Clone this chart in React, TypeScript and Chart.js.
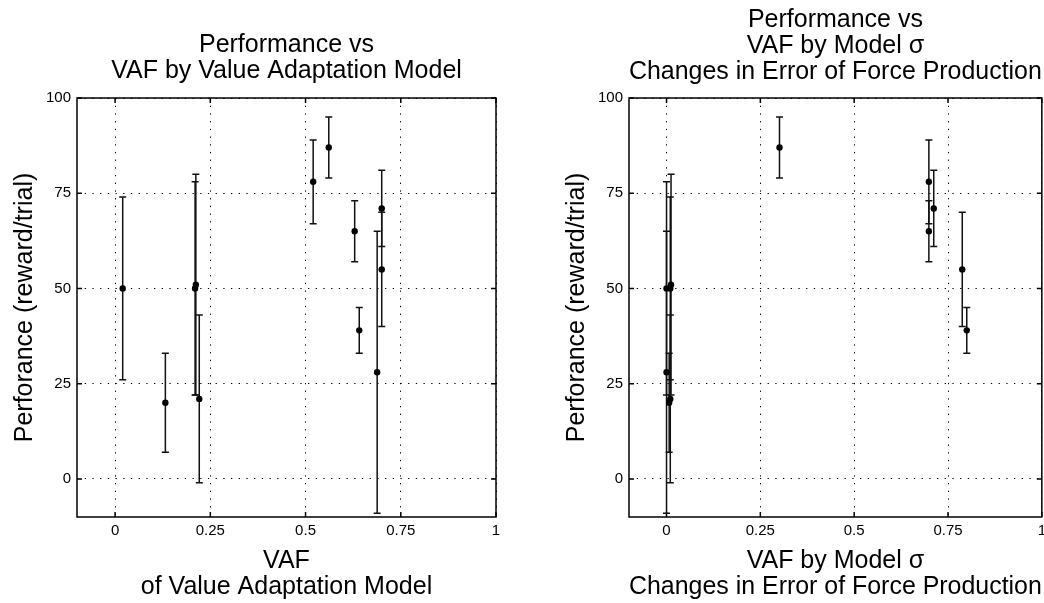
import React, { useEffect, useRef } from 'react';
import { Chart, registerables } from 'chart.js';

Chart.register(...registerables);

// ---- data ----
const performance = [50, 20, 51, 50, 21, 78, 87, 65, 39, 28, 71, 55];
const performanceError = [24, 13, 29, 28, 22, 11, 8, 8, 6, 37, 10, 15];
const vafValueAdaptation = [0.02, 0.132, 0.212, 0.21, 0.221, 0.52, 0.561, 0.629, 0.641, 0.688, 0.7, 0.7];
const vafForceError = [0.01, 0.007, 0.012, 0.0, 0.01, 0.699, 0.301, 0.699, 0.8, 0.0, 0.712, 0.788];

const xTicks = [0, 0.25, 0.5, 0.75, 1];
const xTickLabels = ['0', '0.25', '0.5', '0.75', '1'];
const yTicks = [0, 25, 50, 75, 100];
const yTickLabels = ['0', '25', '50', '75', '100'];

const leftTitle = ['Performance vs', 'VAF by Value Adaptation Model'];
const leftXLabel = ['VAF', 'of Value Adaptation Model'];
const rightTitle = ['Performance vs', 'VAF by Model σ', 'Changes in Error of Force Production'];
const rightXLabel = ['VAF by Model σ', 'Changes in Error of Force Production'];
const yLabel = 'Perforance (reward/trial)';

const FONT = "'Liberation Sans', Arial, Helvetica, sans-serif";

const errorBarPlugin = {
  id: 'errorBars',
  beforeDatasetsDraw(chart: any, _args: any, opts: any) {
    const { ctx } = chart;
    const xs = chart.scales.x;
    const ys = chart.scales.y;
    const errs: number[] = opts.errors || [];
    const pts = chart.data.datasets[0].data as { x: number; y: number }[];
    ctx.save();
    ctx.strokeStyle = '#111';
    ctx.lineWidth = 1.5;
    pts.forEach((p, i) => {
      const px = xs.getPixelForValue(p.x);
      const top = ys.getPixelForValue(p.y + errs[i]);
      const bot = ys.getPixelForValue(p.y - errs[i]);
      ctx.beginPath();
      ctx.moveTo(px, top);
      ctx.lineTo(px, bot);
      ctx.moveTo(px - 3.5, top);
      ctx.lineTo(px + 3.5, top);
      ctx.moveTo(px - 3.5, bot);
      ctx.lineTo(px + 3.5, bot);
      ctx.stroke();
    });
    ctx.restore();
  },
};

const boxPlugin = {
  id: 'matlabBox',
  beforeDatasetsDraw(chart: any) {
    const { ctx, chartArea } = chart;
    const { left, right, top, bottom } = chartArea;
    const xs = chart.scales.x;
    const ys = chart.scales.y;
    ctx.save();
    ctx.strokeStyle = '#000';
    ctx.lineWidth = 1.5;
    ctx.setLineDash([]);
    ctx.strokeRect(left, top, right - left, bottom - top);
    ctx.beginPath();
    xTicks.forEach((v) => {
      const px = xs.getPixelForValue(v);
      ctx.moveTo(px, bottom);
      ctx.lineTo(px, bottom - 5);
      ctx.moveTo(px, top);
      ctx.lineTo(px, top + 5);
    });
    yTicks.forEach((v) => {
      const py = ys.getPixelForValue(v);
      ctx.moveTo(left, py);
      ctx.lineTo(left + 5, py);
      ctx.moveTo(right, py);
      ctx.lineTo(right - 5, py);
    });
    ctx.stroke();
    ctx.restore();
  },
};

function makeConfig(
  xs: number[],
  title: string[],
  xLabel: string[],
  o: { yWidth: number; padRight: number; titleTop: number; titleBottom: number; yTitlePad: number }
): any {
  return {
    type: 'scatter',
    data: {
      datasets: [
        {
          data: xs.map((x, i) => ({ x, y: performance[i] })),
          pointRadius: 3.2,
          pointStyle: 'circle',
          pointBackgroundColor: '#000',
          pointBorderColor: '#000',
          pointBorderWidth: 0,
          showLine: false,
        },
      ],
    },
    options: {
      animation: false,
      responsive: false,
      events: [],
      layout: { padding: { left: 0, right: o.padRight, top: 0, bottom: 0 } },
      plugins: {
        legend: { display: false },
        tooltip: { enabled: false },
        title: {
          display: true,
          text: title,
          fullSize: false,
          color: '#000',
          font: { family: FONT, size: 25, weight: 'normal', lineHeight: 26 / 25 },
          padding: { top: o.titleTop, bottom: o.titleBottom },
        },
        errorBars: { errors: performanceError },
      },
      scales: {
        x: {
          type: 'linear',
          min: -0.1,
          max: 1,
          afterBuildTicks: (s: any) => {
            s.ticks = xTicks.map((v) => ({ value: v }));
          },
          afterFit: (s: any) => {
            s.height = 86;
          },
          ticks: {
            callback: (v: any) => xTickLabels[xTicks.indexOf(Number(v))],
            padding: 6,
            color: '#000',
            font: { family: FONT, size: 15, lineHeight: 1 },
            maxRotation: 0,
            autoSkip: false,
          },
          grid: { color: '#000', lineWidth: 1, drawTicks: false },
          border: { display: false, dash: [1.3, 6.4] },
          title: {
            display: true,
            text: xLabel,
            color: '#000',
            font: { family: FONT, size: 25, lineHeight: 26 / 25 },
            padding: { top: 0, bottom: 3 },
          },
        },
        y: {
          type: 'linear',
          min: -10,
          max: 100,
          afterBuildTicks: (s: any) => {
            s.ticks = yTicks.map((v) => ({ value: v }));
          },
          afterFit: (s: any) => {
            s.width = o.yWidth;
          },
          ticks: {
            callback: (v: any) => yTickLabels[yTicks.indexOf(Number(v))],
            padding: 6,
            color: '#000',
            font: { family: FONT, size: 15, lineHeight: 1 },
            autoSkip: false,
          },
          grid: { color: '#000', lineWidth: 1, drawTicks: false },
          border: { display: false, dash: [1.3, 6.4] },
          title: {
            display: true,
            text: yLabel,
            color: '#000',
            font: { family: FONT, size: 25, lineHeight: 26 / 25 },
            padding: { top: o.yTitlePad, bottom: 0 },
          },
        },
      },
    },
    plugins: [boxPlugin, errorBarPlugin],
  };
}

export default function App() {
  const leftRef = useRef<HTMLCanvasElement>(null);
  const rightRef = useRef<HTMLCanvasElement>(null);

  useEffect(() => {
    const c1 = new Chart(
      leftRef.current as HTMLCanvasElement,
      makeConfig(vafValueAdaptation, leftTitle, leftXLabel, {
        yWidth: 77,
        padRight: 26,
        titleTop: 32,
        titleBottom: 14,
        yTitlePad: 12,
      })
    );
    const c2 = new Chart(
      rightRef.current as HTMLCanvasElement,
      makeConfig(vafForceError, rightTitle, rightXLabel, {
        yWidth: 107,
        padRight: 7,
        titleTop: 7,
        titleBottom: 13,
        yTitlePad: 42,
      })
    );
    return () => {
      c1.destroy();
      c2.destroy();
    };
  }, []);

  return (
    <div
      style={{
        position: 'absolute',
        left: 0,
        top: 0,
        width: 1044,
        height: 603,
        overflow: 'hidden',
        background: '#fff',
      }}
    >
      <canvas
        ref={leftRef}
        width={522}
        height={603}
        style={{ position: 'absolute', left: 0, top: 0, width: 522, height: 603 }}
      />
      <canvas
        ref={rightRef}
        width={530}
        height={603}
        style={{ position: 'absolute', left: 522, top: 0, width: 530, height: 603 }}
      />
    </div>
  );
}
